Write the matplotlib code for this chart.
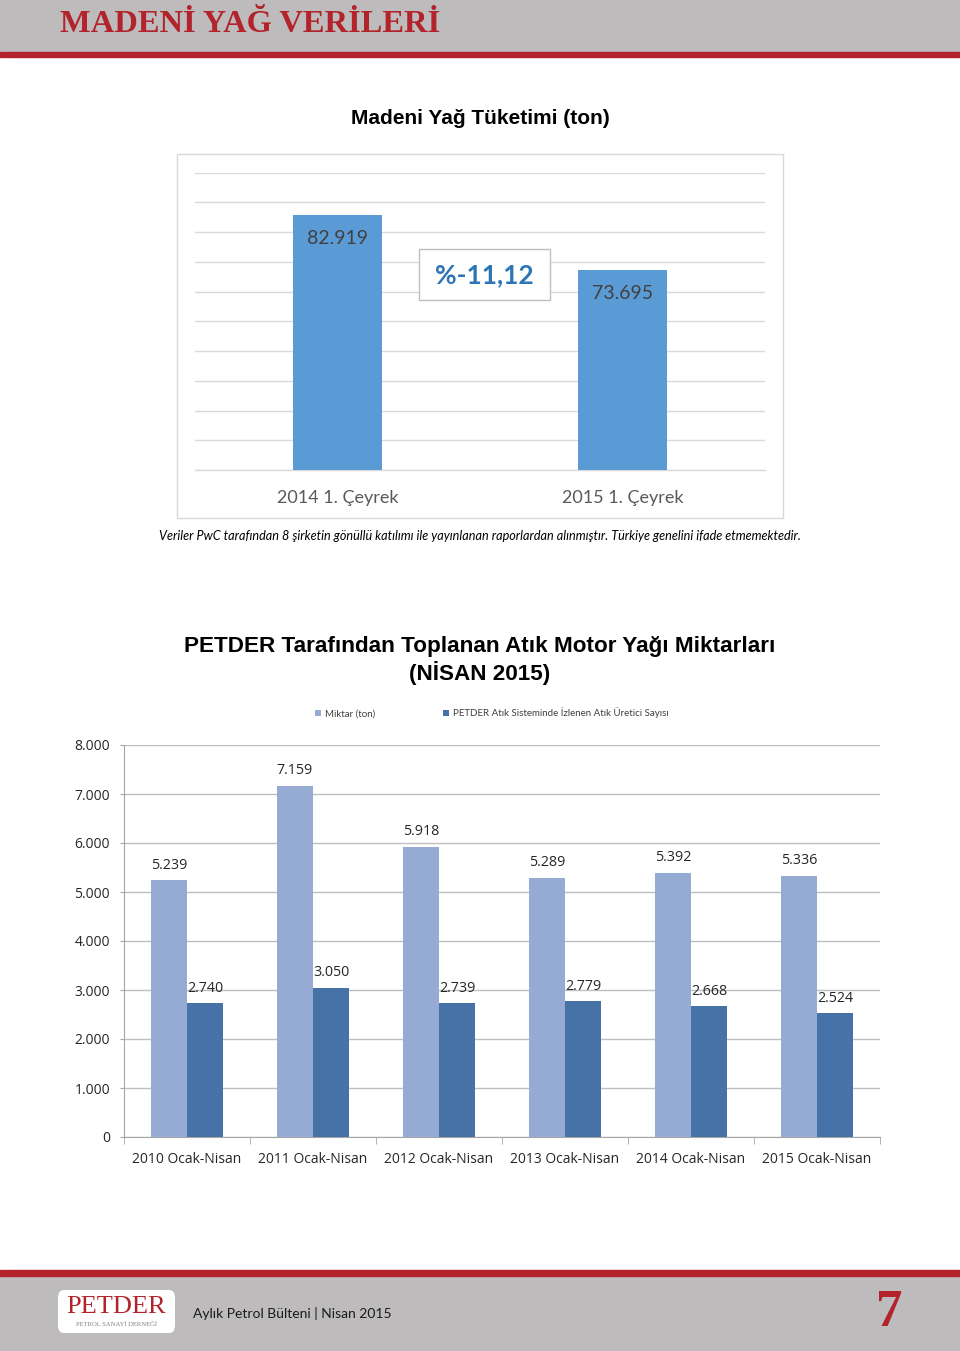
import matplotlib
matplotlib.use('Agg')
import matplotlib.pyplot as plt
from matplotlib.patches import Rectangle, FancyBboxPatch
import numpy as np

# top chart data
top_categories = ['2014 1. Çeyrek', '2015 1. Çeyrek']
top_values = [82919, 73695]
change_label = '%-11,12'

# bottom chart data
years = ['2010 Ocak-Nisan', '2011 Ocak-Nisan', '2012 Ocak-Nisan',
         '2013 Ocak-Nisan', '2014 Ocak-Nisan', '2015 Ocak-Nisan']
miktar = [5239, 7159, 5918, 5289, 5392, 5336]
uretici = [2740, 3050, 2739, 2779, 2668, 2524]
series_names = ['Miktar (ton)', 'PETDER Atık Sisteminde İzlenen Atık Üretici Sayısı']

W, H = 960, 1351
RED = '#B2232B'
GRAY_BAND = '#BDBBBC'


def fx(x):
    return x / W


def fy(y):
    return 1 - y / H


def tr(v):
    # thousands with dot
    return f'{v:,}'.replace(',', '.')


fig = plt.figure(figsize=(9.6, 13.51), dpi=100)

# header / footer bands
fig.add_artist(Rectangle((0, fy(52)), 1, 52 / H, transform=fig.transFigure, color=GRAY_BAND, zorder=0))
fig.add_artist(Rectangle((0, fy(57)), 1, 5 / H, transform=fig.transFigure, color=RED, zorder=0))
fig.add_artist(Rectangle((0, 0), 1, (H - 1276) / H, transform=fig.transFigure, color=GRAY_BAND, zorder=0))
fig.add_artist(Rectangle((0, fy(1276)), 1, 6 / H, transform=fig.transFigure, color=RED, zorder=0))

fig.text(fx(60), fy(24), 'MADENİ YAĞ VERİLERİ', family='Liberation Serif', weight='bold',
         size=23.4, color=RED, ha='left', va='center')

# ---- top chart ----
fig.text(0.5, fy(119), 'Madeni Yağ Tüketimi (ton)', family='Liberation Sans', weight='bold',
         size=15, color='black', ha='center', va='center')
fig.add_artist(Rectangle((fx(177), fy(518)), fx(783) - fx(177), (518 - 154) / H,
                         transform=fig.transFigure, fill=False, edgecolor='#D9D9D9', lw=1))

ax1 = fig.add_axes([fx(195), fy(470), fx(765) - fx(195), (470 - 172.7) / H])
x1 = np.arange(len(top_categories))
ax1.bar(x1, top_values, width=0.31, color='#5B9BD5', zorder=3)
ax1.set_ylim(40000, 90000)
ax1.set_xlim(-0.5, 1.5)
ax1.set_yticks(np.arange(40000, 90001, 5000))
ax1.yaxis.grid(True, color='#D9D9D9', lw=1)
ax1.axhline(40000, color='#D9D9D9', lw=1, clip_on=False, zorder=2)
ax1.set_axisbelow(True)
for s in ax1.spines.values():
    s.set_visible(False)
ax1.tick_params(axis='y', left=False, labelleft=False)
ax1.tick_params(axis='x', bottom=False, pad=11)
ax1.set_xticks(x1)
ax1.set_xticklabels(top_categories, family='Lato', size=13, color='#595959')
for xi, v in zip(x1, top_values):
    ax1.annotate(tr(v), (xi, v), xytext=(0, -17), textcoords='offset points',
                 ha='center', va='center', family='Lato', size=14, color='#404040', zorder=4)

fig.add_artist(Rectangle((fx(419), fy(300)), fx(550) - fx(419), 51 / H,
                         transform=fig.transFigure, facecolor='white', edgecolor='#BFBFBF', lw=1))
fig.text(fx(484.5), fy(275), change_label, family='Lato', weight='bold', size=19,
         color='#2E75B6', ha='center', va='center')

fig.text(0.5, fy(536), 'Veriler PwC tarafından 8 şirketin gönüllü katılımı ile yayınlanan raporlardan '
         'alınmıştır. Türkiye genelini ifade etmemektedir.', family='Lato', style='italic',
         size=9.1, color='black', ha='center', va='center')

# ---- bottom chart ----
fig.text(0.5, fy(660.5), 'PETDER Tarafından Toplanan Atık Motor Yağı Miktarları\n(NİSAN 2015)',
         family='Liberation Sans', weight='bold', size=16.2, color='black', ha='center',
         va='center', linespacing=1.2)

ax2 = fig.add_axes([fx(124), fy(1137), fx(880) - fx(124), (1137 - 745) / H])
x2 = np.arange(len(years))
w = 0.286
b1 = ax2.bar(x2 - w / 2, miktar, width=w, color='#95ABD3', zorder=3, label=series_names[0])
b2 = ax2.bar(x2 + w / 2, uretici, width=w, color='#4672A7', zorder=3, label=series_names[1])
ax2.set_ylim(0, 8000)
ax2.set_xlim(-0.5, 5.5)
ax2.set_yticks(np.arange(0, 8001, 1000))
ax2.set_yticklabels([tr(v) for v in range(0, 8001, 1000)], family='Open Sans', size=10, color='#262626')
ax2.yaxis.grid(True, color='#BFBFBF', lw=1)
ax2.set_axisbelow(True)
for s in ['top', 'right']:
    ax2.spines[s].set_visible(False)
ax2.spines['left'].set_color('#A6A6A6')
ax2.spines['bottom'].set_color('#A6A6A6')
ax2.tick_params(axis='y', length=3, color='#A6A6A6', pad=7)
ax2.set_xticks(x2)
ax2.set_xticklabels(years, family='Open Sans', size=10, color='#262626')
ax2.tick_params(axis='x', length=0, pad=10.5)
ax2.set_xticks(np.arange(-0.5, 5.6, 1), minor=True)
ax2.tick_params(axis='x', which='minor', length=5, color='#A6A6A6')
for xi, v in zip(x2, miktar):
    ax2.annotate(tr(v), (xi - w / 2, v), xytext=(0, 11), textcoords='offset points',
                 ha='center', va='center', family='Open Sans', size=10.3, color='#262626')
for xi, v in zip(x2, uretici):
    ax2.annotate(tr(v), (xi + w / 2, v), xytext=(0, 10.5), textcoords='offset points',
                 ha='center', va='center', family='Open Sans', size=10.3, color='#262626')

leg = fig.legend(handles=[b1, b2], loc='center', bbox_to_anchor=(fx(492), fy(713)), ncol=2,
                 frameon=False, prop={'family': 'Lato', 'size': 7}, handlelength=0.6,
                 handleheight=0.6, handletextpad=0.4, columnspacing=7.0)
for t in leg.get_texts():
    t.set_color('#404040')

# ---- footer ----
fig.add_artist(FancyBboxPatch((fx(58), fy(1333)), fx(175) - fx(58), 43 / H,
                              boxstyle='round,pad=0,rounding_size=0.006',
                              transform=fig.transFigure, facecolor='white', edgecolor='none'))
fig.text(fx(116.5), fy(1307), 'PETDER', family='Liberation Serif', size=19, color=RED,
         ha='center', va='center')
fig.text(fx(116.5), fy(1324), 'PETROL SANAYİ DERNEĞİ', family='Liberation Serif', size=4.8,
         color='#808080', ha='center', va='center')
fig.text(fx(193), fy(1313), 'Aylık Petrol Bülteni | Nisan 2015', family='Lato', size=10,
         color='#1a1a1a', ha='left', va='center')
fig.text(fx(889), fy(1313), '7', family='Liberation Serif', weight='bold', size=38, color=RED,
         ha='center', va='center')

fig.savefig('out.png', dpi=100)
